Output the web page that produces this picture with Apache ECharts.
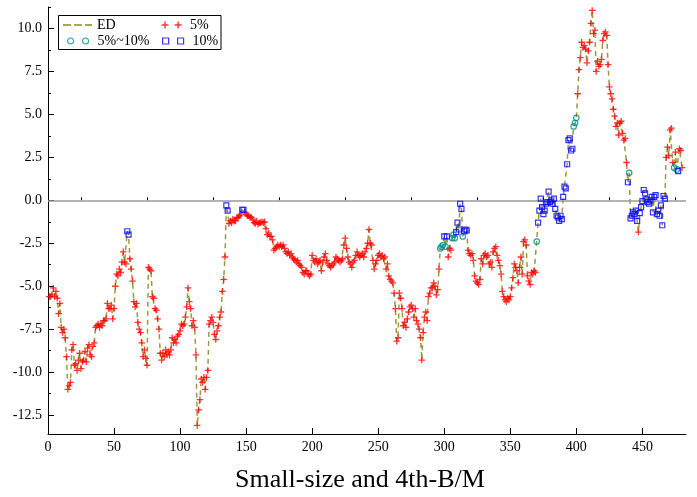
<!DOCTYPE html>
<html>
<head>
<meta charset="utf-8">
<script src="https://cdn.jsdelivr.net/npm/echarts@6/dist/echarts.min.js"></script>
<style>html,body{margin:0;padding:0;background:#fff;}#c{width:697px;height:497px;}</style>
</head>
<body>
<div id="c"></div>
<script>
// ED series values, observation 1..480
const edValues = [
-5.6,-5.6,-5.5,-5.1,-5.6,-5.3,-5.7,-6.6,-6.0,-7.4,
-7.7,-7.5,-8.0,-9.1,-11.0,-10.8,-10.6,-8.7,-8.4,-9.6,
-9.5,-9.9,-9.3,-8.9,-9.8,-9.4,-9.3,-8.8,-9.4,-8.6,
-8.4,-9.0,-9.1,-8.5,-8.3,-7.4,-7.3,-7.2,-7.4,-7.2,
-7.3,-7.0,-7.0,-6.9,-6.0,-6.3,-6.3,-6.1,-6.9,-6.3,
-5.0,-4.3,-4.4,-4.0,-4.2,-3.6,-3.0,-3.6,-3.7,-1.8,
-2.0,-3.4,-4.0,-4.7,-5.9,-6.2,-6.0,-7.1,-7.5,-7.7,
-8.3,-9.1,-8.7,-9.2,-9.6,-3.9,-4.0,-4.1,-5.6,-5.7,
-6.3,-6.4,-6.9,-7.5,-8.9,-9.3,-8.9,-9.1,-8.7,-9.0,
-8.8,-9.0,-8.7,-8.0,-8.3,-8.1,-8.3,-7.9,-7.8,-7.6,
-7.2,-7.3,-7.2,-6.8,-6.2,-5.1,-5.9,-6.3,-7.3,-7.0,
-7.4,-9.0,-13.1,-12.2,-11.6,-10.4,-10.6,-10.3,-11.0,-10.3,
-9.9,-7.2,-7.0,-6.8,-7.1,-7.8,-8.1,-7.6,-7.3,-6.8,
-6.5,-5.3,-4.6,-3.3,-0.3,-0.6,-1.35,-1.2,-1.3,-1.1,
-1.2,-1.2,-1.0,-1.0,-0.9,-0.8,-0.55,-0.55,-0.7,-0.8,
-0.9,-0.9,-1.0,-1.0,-1.1,-1.3,-1.35,-1.2,-1.4,-1.3,
-1.3,-1.25,-1.3,-1.25,-1.65,-2.0,-1.9,-2.1,-2.1,-2.3,
-2.9,-2.8,-2.7,-2.6,-2.7,-2.6,-2.7,-2.6,-2.8,-3.0,
-3.1,-3.0,-3.2,-3.1,-3.3,-3.4,-3.5,-3.6,-3.5,-3.7,
-3.8,-3.9,-4.2,-4.3,-4.1,-4.1,-4.3,-4.4,-4.3,-3.2,
-3.5,-3.6,-3.4,-3.7,-3.6,-3.5,-4.1,-3.6,-3.3,-3.1,
-3.5,-3.7,-3.8,-3.9,-3.8,-3.7,-3.6,-3.3,-3.4,-3.5,
-3.6,-3.5,-3.4,-2.6,-2.2,-2.8,-3.3,-3.6,-3.7,-3.9,
-3.6,-3.5,-3.2,-3.0,-3.2,-3.3,-3.2,-3.1,-3.3,-3.0,
-2.8,-2.5,-1.7,-2.5,-2.6,-3.5,-4.0,-3.7,-3.5,-3.2,
-3.1,-3.3,-3.2,-3.4,-3.3,-4.0,-3.7,-4.4,-4.6,-4.7,
-4.8,-5.4,-6.3,-8.2,-8.0,-5.4,-5.7,-6.3,-7.3,-7.1,
-7.4,-6.9,-6.5,-6.2,-6.1,-6.3,-6.8,-6.3,-7.0,-7.2,
-7.5,-8.0,-9.3,-7.7,-6.8,-6.5,-7.0,-5.6,-5.4,-5.1,
-5.1,-4.8,-5.0,-5.5,-5.2,-4.0,-2.8,-2.7,-2.6,-2.1,
-2.7,-2.1,-3.3,-2.8,-2.9,-2.2,-2.0,-2.2,-1.85,-1.3,
-1.7,-0.2,-0.5,-2.1,-1.8,-1.7,-1.75,-2.9,-3.1,-3.2,
-3.1,-3.5,-4.4,-4.7,-4.8,-4.9,-4.6,-3.4,-3.7,-3.2,
-3.1,-3.3,-3.2,-3.7,-3.6,-3.9,-3.0,-2.8,-2.7,-3.2,
-3.5,-3.8,-4.3,-5.3,-5.6,-5.8,-5.9,-5.7,-5.8,-5.6,
-5.1,-4.5,-3.7,-3.9,-4.1,-4.8,-3.9,-3.3,-4.3,-2.4,
-2.3,-2.6,-4.4,-4.7,-4.9,-4.2,-4.3,-4.1,-4.2,-2.4,
-1.3,-0.6,0.1,-0.4,-0.8,-0.6,-0.2,-0.1,0.5,-0.1,
0.0,-0.2,0.1,-0.5,-0.9,-1.0,-1.2,-0.9,-1.1,0.2,
0.8,0.7,2.1,3.5,3.6,2.9,3.0,4.3,4.5,4.8,
6.2,7.6,8.3,9.2,8.9,9.0,8.8,8.0,8.7,9.2,
10.3,11.05,9.7,9.9,7.5,8.1,7.8,7.9,8.2,9.3,
9.7,9.8,9.6,7.9,6.6,6.2,5.9,5.3,4.9,4.3,
4.5,3.8,4.5,4.6,3.9,3.5,3.6,2.2,1.05,1.6,
-1.05,-0.9,-0.7,-0.8,-0.6,-1.2,-1.85,-0.75,-0.4,-0.05,
0.6,0.4,0.05,-0.1,-0.2,0.0,0.2,-0.7,0.2,0.3,
-0.8,-0.6,-0.9,-0.3,-1.45,0.25,0.1,2.5,3.1,2.6,
4.1,4.2,2.2,1.9,2.8,1.8,1.7,3.0,2.9,1.9
];
// significance class of each observation: 1 = 5%, 2 = 5%~10%, 3 = 10%
const sigRows = [
"1111111111","1111111111","1111111111","1111111111","1111111111",
"1111111113","3111111111","1111111111","1111111111","1111111111",
"1111111111","1111111111","1111111111","1111331111","1111113311",
"1111111111","1111111111","1111111111","1111111111","1111111111",
"1111111111","1111111111","1111111111","1111111111","1111111111",
"1111111111","1111111111","1111111111","1111111111","1111112223",
"2311122233","3332333111","1111111111","1111111111","1111111111",
"1111111111","1111111112","3333333333","3333333333","3333333222",
"1111111111","1111111111","1111111111","1111111132","3333331333",
"3333333333","3333333111","1112123111"
];
const sigClass = sigRows.join('');
const seriesNames = ['ED', '5%', '5%~10%', '10%'];
const xTicks = [0,50,100,150,200,250,300,350,400,450];
const xMinorTicks = [25,75,125,175,225,275,325,375,425,475];
const yTicks = [-12.5,-10,-7.5,-5,-2.5,0,2.5,5,7.5,10];
const yMinorTicks = [-11.25,-8.75,-6.25,-3.75,-1.25,1.25,3.75,6.25,8.75,11.25];
const xTitle = 'Small-size and 4th-B/M';

const FONT = '"Liberation Serif", "Times New Roman", serif';
const lineData = edValues.map((v, i) => [i + 1, v]);
const pick = c => edValues.map((v, i) => [i + 1, v]).filter((p, i) => sigClass[i] === c);

const plusPath = 'path://M3.2,0h1.6v3.2h3.2v1.6h-3.2v3.2h-1.6v-3.2h-3.2v-1.6h3.2z';
const plus2 = 'path://M3.2,0h1.6v3.2h3.2v1.6h-3.2v3.2h-1.6v-3.2h-3.2v-1.6h3.2z M18.2,0h1.6v3.2h3.2v1.6h-3.2v3.2h-1.6v-3.2h-3.2v-1.6h3.2z';
const circ2 = 'path://M0,3a3,3 0 1,0 6,0a3,3 0 1,0 -6,0z M15,3a3,3 0 1,0 6,0a3,3 0 1,0 -6,0z';
const sq2 = 'path://M0,0h6v6h-6z M15,0h6v6h-6z';
const dash3 = 'path://M0,0h8v1.5h-8z M11,0h8v1.5h-8z M22,0h7v1.5h-7z';

const olive = '#8a8a1c';
const teal = '#008b8b';
const blue = '#0000ff';
const red = '#ff0000';

const commonLegend = {
  orient: 'vertical', padding: 0, itemGap: 0,
  textStyle: { fontFamily: FONT, fontSize: 14, color: '#000', lineHeight: 16 },
  selectedMode: false
};

const chart = echarts.init(document.getElementById('c'), null, { renderer: 'canvas' });
chart.setOption({
  animation: false,
  backgroundColor: '#fff',
  grid: { left: 48, right: 11, top: 7, bottom: 63, containLabel: false },
  title: {
    text: xTitle, left: 360, top: 467, textAlign: 'center', padding: 0,
    textStyle: { fontFamily: FONT, fontSize: 26, fontWeight: 'normal', color: '#000' }
  },
  legend: [
    Object.assign({}, commonLegend, { left: 63, top: 17, itemWidth: 29, itemHeight: 1.5,
      data: [{ name: 'ED', icon: dash3, itemStyle: { color: olive } }] }),
    Object.assign({}, commonLegend, { left: 67, top: 33, itemWidth: 21, itemHeight: 6,
      textStyle: Object.assign({}, commonLegend.textStyle, { padding: [0,0,0,4] }),
      data: [{ name: '5%~10%', icon: circ2, itemStyle: { color: 'rgba(0,0,0,0)', borderColor: teal, borderWidth: 1.2 } }] }),
    Object.assign({}, commonLegend, { left: 161.5, top: 17, itemWidth: 23, itemHeight: 7,
      textStyle: Object.assign({}, commonLegend.textStyle, { padding: [0,0,0,2] }),
      data: [{ name: '5%', icon: plus2, itemStyle: { color: red } }] }),
    Object.assign({}, commonLegend, { left: 162, top: 33, itemWidth: 21, itemHeight: 6,
      textStyle: Object.assign({}, commonLegend.textStyle, { padding: [0,0,0,4] }),
      data: [{ name: '10%', icon: sq2, itemStyle: { color: 'rgba(0,0,0,0)', borderColor: blue, borderWidth: 1.2 } }] })
  ],
  graphic: [{
    type: 'rect', z: 100, silent: true,
    shape: { x: 58.5, y: 15.5, width: 162.5, height: 34 },
    style: { fill: 'rgba(0,0,0,0)', stroke: '#000', lineWidth: 1 }
  }],
  xAxis: [{
    type: 'value', min: 0, max: 483, position: 'bottom',
    axisLine: { show: true, onZero: false, lineStyle: { color: '#000', width: 1 } },
    axisTick: { show: true, inside: true, length: 6, customValues: xTicks, lineStyle: { color: '#000' } },
    axisLabel: { customValues: xTicks, fontFamily: FONT, fontSize: 14, color: '#000', margin: 6 },
    splitLine: { show: false }
  }, {
    type: 'value', min: 0, max: 483, position: 'bottom',
    axisLine: { show: false },
    axisTick: { show: true, inside: true, length: 3, customValues: xMinorTicks, lineStyle: { color: '#000' } },
    axisLabel: { show: false },
    splitLine: { show: false }
  }],
  yAxis: [{
    type: 'value', min: -13.6, max: 11.25, position: 'left',
    axisLine: { show: true, onZero: false, lineStyle: { color: '#000', width: 1 } },
    axisTick: { show: true, inside: true, length: 6, customValues: yTicks, lineStyle: { color: '#000' } },
    axisLabel: { customValues: yTicks, fontFamily: FONT, fontSize: 14, color: '#000', margin: 6,
      formatter: v => v.toFixed(1) },
    splitLine: { show: false }
  }, {
    type: 'value', min: -13.6, max: 11.25, position: 'left',
    axisLine: { show: false },
    axisTick: { show: true, inside: true, length: 3, customValues: yMinorTicks, lineStyle: { color: '#000' } },
    axisLabel: { show: false },
    splitLine: { show: false }
  }],
  series: [{
    name: seriesNames[0], type: 'line', data: lineData, showSymbol: false, symbol: 'none',
    lineStyle: { color: olive, width: 1.5, type: [5, 4], opacity: 0.85 },
    itemStyle: { color: olive }, z: 1,
    markLine: {
      silent: true, symbol: ['none', 'none'], label: { show: false },
      lineStyle: { color: '#999', width: 1.5, type: 'solid' },
      data: [{ yAxis: 0 }]
    }
  }, {
    name: seriesNames[1], type: 'scatter', data: pick('1'), symbol: plusPath, symbolSize: 6.5,
    itemStyle: { color: red }, z: 3
  }, {
    name: seriesNames[2], type: 'scatter', data: pick('2'), symbol: 'circle', symbolSize: 5.5,
    itemStyle: { color: 'rgba(0,0,0,0)', borderColor: teal, borderWidth: 1.2 }, z: 4
  }, {
    name: seriesNames[3], type: 'scatter', data: pick('3'), symbol: 'rect', symbolSize: 5,
    itemStyle: { color: 'rgba(0,0,0,0)', borderColor: blue, borderWidth: 1.2 }, z: 5
  }]
});
</script>
</body>
</html>
